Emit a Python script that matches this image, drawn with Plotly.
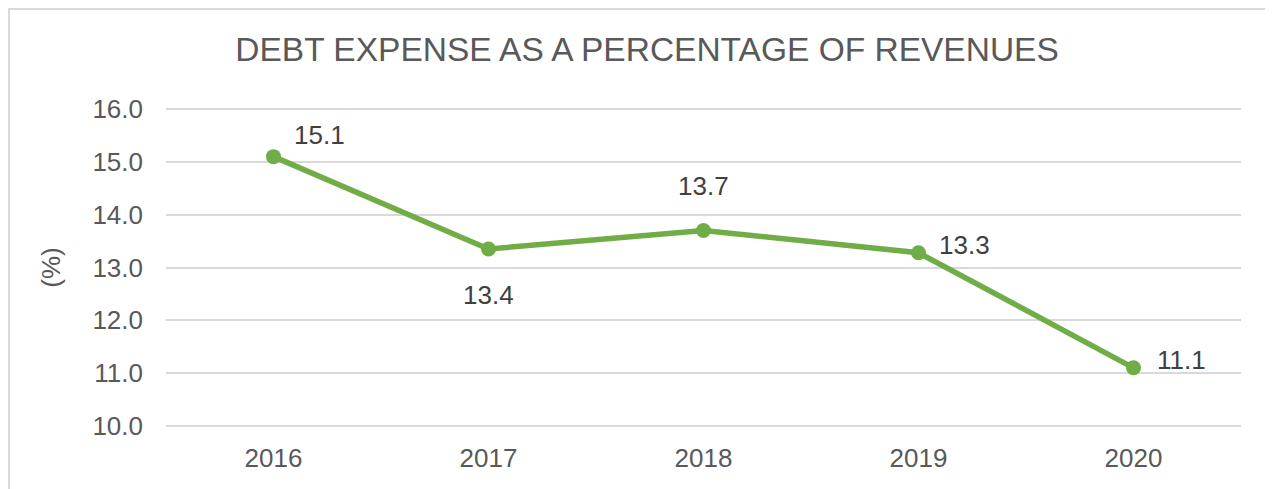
import plotly.graph_objects as go

# Chart data
years = ["2016", "2017", "2018", "2019", "2020"]
debt_pct = [15.1, 13.35, 13.7, 13.28, 11.1]
labels = ["15.1", "13.4", "13.7", "13.3", "11.1"]
y_ticks = [10, 11, 12, 13, 14, 15, 16]

GREEN = "#70AD47"
TEXT = "#595959"
GRID = "#D9D9D9"
FONT = "Liberation Sans, Arial, sans-serif"

fig = go.Figure()
fig.add_trace(go.Scatter(
    x=years, y=debt_pct,
    mode="lines+markers",
    line=dict(color=GREEN, width=5.5),
    marker=dict(color=GREEN, size=15),
    hoverinfo="x+y",
    showlegend=False,
))

# Data labels, offset like the original (x by category index)
offsets = [(46, 22), (0, -46), (0, 45), (46, 8), (48, 8)]
for i, (val, lab, (dx, dy)) in enumerate(zip(debt_pct, labels, offsets)):
    fig.add_annotation(
        x=i, y=val, text=lab, showarrow=False,
        xshift=dx, yshift=dy,
        font=dict(size=26, color="#404040", family=FONT),
    )

# Outer chart frame
fig.add_shape(
    type="rect", xref="paper", yref="paper",
    x0=-0.146, x1=1.025, y0=-0.4, y1=1.305,
    line=dict(color=GRID, width=2), fillcolor="rgba(0,0,0,0)",
    layer="below",
)

fig.update_layout(
    width=1273, height=489,
    paper_bgcolor="white", plot_bgcolor="white",
    margin=dict(l=158, r=40, t=99, b=69),
    font=dict(family=FONT, color=TEXT, size=26),
    title=dict(
        text="DEBT EXPENSE AS A PERCENTAGE OF REVENUES",
        x=0.502, xanchor="center", y=0.915, yanchor="middle",
        font=dict(size=33.5, color=TEXT, family=FONT),
    ),
    xaxis=dict(
        type="category", range=[-0.5, 4.5],
        showgrid=False, zeroline=False, showline=False,
        ticks="", ticklabelstandoff=12,
        tickfont=dict(size=26, color=TEXT),
    ),
    yaxis=dict(
        range=[9.96, 16.04], tickvals=y_ticks, tickformat=".1f",
        showgrid=True, gridcolor=GRID, gridwidth=2,
        zeroline=False, showline=False, ticks="",
        ticklabelstandoff=22,
        tickfont=dict(size=26, color=TEXT),
        title=dict(text="(%)", font=dict(size=26, color=TEXT), standoff=24),
    ),
)

fig.write_html("out.html")
